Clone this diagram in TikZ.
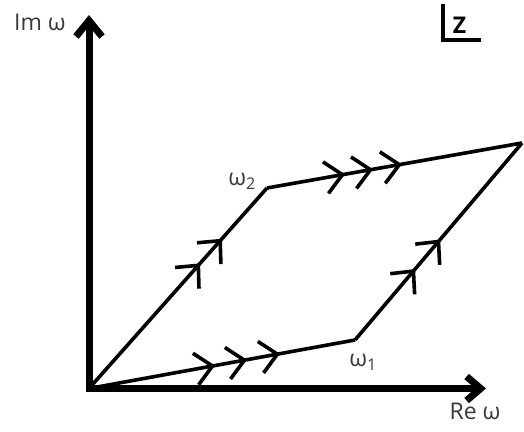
\documentclass[tikz,border=0pt]{standalone}
\usepackage{fontspec}
\setmainfont{Open Sans}
\usetikzlibrary{arrows.meta, decorations.markings}
\definecolor{labelgray}{HTML}{3A3A3A}
\tikzset{
  axis/.style={{Straight Barb[length=16pt,width=26pt]}-{Straight Barb[length=14pt,width=24pt]}, line width=7pt, line join=miter},
  side/.style={line width=3.6pt, line join=round, decoration={markings}, postaction={decorate}},
  chevron at/.style={decoration={mark=at position #1 with {\arrow{Straight Barb[length=17pt,width=32pt]}}}},
  every node/.append style={font=\fontsize{23}{27}\selectfont, text=labelgray, inner sep=0pt}
}

\begin{document}
\begin{tikzpicture}[x=1pt, y=1pt]
\useasboundingbox (0,0) rectangle (524,431);
% corners of the period parallelogram
\coordinate (O) at (89,42.5);
\coordinate (w1) at (355,91);
\coordinate (w2) at (267,243);
\coordinate (w3) at (522,288);
\coordinate (imtop) at (89,416);
\coordinate (reend) at (486,42.5);
% axes
\draw[axis] (imtop) -- (O) -- (reend);
\node (imlab) at (40,409) {Im ω};
\node (relab) at (475,19.5) {Re ω};
% sides
\draw[side, chevron at=0.474, chevron at=0.594, chevron at=0.718] (O) -- (w1);
\draw[side, chevron at=0.624, chevron at=0.747] (O) -- (w2);
\draw[side, chevron at=0.306, chevron at=0.416, chevron at=0.529] (w2) -- (w3);
\draw[side, chevron at=0.36, chevron at=0.51] (w1) -- (w3);
\node (w1lab) at (363,69) {ω\textsubscript{1}};
\node (w2lab) at (242,250) {ω\textsubscript{2}};
% plane label
\node[font=\bfseries\fontsize{23}{27}\selectfont, text=black] (zlab) at (459.5,406) {Z};
\coordinate (zl1) at (443,427);
\coordinate (zl2) at (443,390.5);
\coordinate (zl3) at (481,390.5);
\draw[line width=4pt] (zl1) -- (zl2) -- (zl3);
\end{tikzpicture}
\end{document}
